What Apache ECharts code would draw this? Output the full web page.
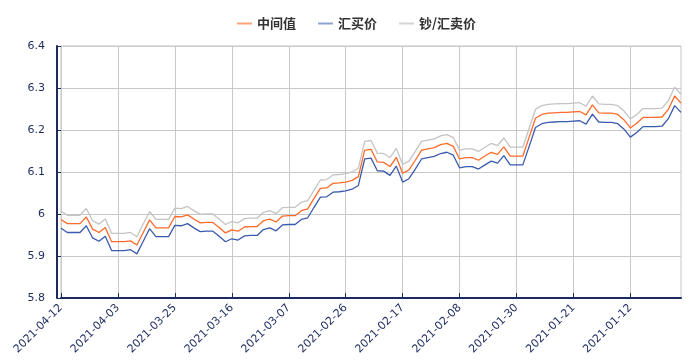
<!DOCTYPE html>
<html><head><meta charset="utf-8">
<script src="https://cdn.jsdelivr.net/npm/echarts@6/dist/echarts.min.js"></script>
<style>html,body{margin:0;padding:0;background:#fff}#c{width:696px;height:363px}</style>
</head><body><div id="c"></div>
<script>
var categories = [
'2021-04-12','2021-04-11','2021-04-10','2021-04-09','2021-04-08','2021-04-07','2021-04-06','2021-04-05','2021-04-04','2021-04-03','2021-04-02','2021-04-01',
'2021-03-31','2021-03-30','2021-03-29','2021-03-28','2021-03-27','2021-03-26','2021-03-25','2021-03-24','2021-03-23','2021-03-22','2021-03-21','2021-03-20','2021-03-19','2021-03-18','2021-03-17','2021-03-16','2021-03-15','2021-03-14','2021-03-13','2021-03-12','2021-03-11','2021-03-10','2021-03-09','2021-03-08','2021-03-07','2021-03-06','2021-03-05','2021-03-04','2021-03-03','2021-03-02','2021-03-01',
'2021-02-28','2021-02-27','2021-02-26','2021-02-25','2021-02-24','2021-02-23','2021-02-22','2021-02-21','2021-02-20','2021-02-19','2021-02-18','2021-02-17','2021-02-16','2021-02-15','2021-02-14','2021-02-13','2021-02-12','2021-02-11','2021-02-10','2021-02-09','2021-02-08','2021-02-07','2021-02-06','2021-02-05','2021-02-04','2021-02-03','2021-02-02','2021-02-01',
'2021-01-31','2021-01-30','2021-01-29','2021-01-28','2021-01-27','2021-01-26','2021-01-25','2021-01-24','2021-01-23','2021-01-22','2021-01-21','2021-01-20','2021-01-19','2021-01-18','2021-01-17','2021-01-16','2021-01-15','2021-01-14','2021-01-13','2021-01-12','2021-01-11','2021-01-10','2021-01-09','2021-01-08','2021-01-07','2021-01-06','2021-01-05','2021-01-04'
];
var seriesNames = ['中间值','汇买价','钞/汇卖价'];
var midRate = [
5.987,5.977,5.977,5.977,5.993,5.964,5.956,5.968,5.934,5.934,5.934,5.936,
5.926,5.956,5.986,5.967,5.967,5.967,5.994,5.993,5.998,5.988,5.979,5.980,5.980,5.968,5.955,5.962,5.959,5.969,5.970,5.970,5.984,5.988,5.981,5.995,5.996,5.996,6.008,6.012,6.037,6.061,6.062,
6.073,6.074,6.076,6.080,6.089,6.152,6.154,6.124,6.123,6.113,6.135,6.097,6.105,6.128,6.152,6.155,6.158,6.165,6.168,6.161,6.131,6.134,6.134,6.128,6.138,6.147,6.142,6.160,
6.138,6.138,6.138,6.183,6.228,6.237,6.240,6.241,6.242,6.242,6.243,6.244,6.236,6.260,6.241,6.240,6.240,6.237,6.224,6.205,6.216,6.230,6.230,6.230,6.231,6.249,6.281,6.264
];
var buyRate = [
5.966,5.956,5.956,5.956,5.972,5.943,5.935,5.947,5.913,5.913,5.913,5.915,
5.905,5.935,5.965,5.946,5.946,5.946,5.973,5.972,5.977,5.967,5.958,5.959,5.959,5.947,5.934,5.941,5.938,5.948,5.949,5.949,5.963,5.967,5.960,5.974,5.975,5.975,5.987,5.991,6.016,6.040,6.041,
6.052,6.053,6.055,6.059,6.068,6.131,6.133,6.103,6.102,6.092,6.114,6.076,6.084,6.107,6.131,6.134,6.137,6.144,6.147,6.140,6.110,6.113,6.113,6.107,6.117,6.126,6.121,6.139,
6.117,6.117,6.117,6.161,6.206,6.215,6.218,6.219,6.220,6.220,6.221,6.222,6.214,6.238,6.219,6.218,6.218,6.215,6.202,6.183,6.194,6.208,6.208,6.208,6.209,6.227,6.258,6.242
];
var sellRate = [
6.007,5.997,5.997,5.997,6.013,5.984,5.976,5.988,5.954,5.954,5.954,5.956,
5.946,5.976,6.006,5.987,5.987,5.987,6.014,6.013,6.018,6.008,5.999,6.000,6.000,5.988,5.975,5.982,5.979,5.989,5.990,5.990,6.004,6.008,6.001,6.015,6.016,6.016,6.028,6.032,6.057,6.081,6.082,
6.093,6.094,6.096,6.100,6.109,6.173,6.175,6.145,6.144,6.134,6.156,6.118,6.126,6.149,6.173,6.176,6.179,6.186,6.189,6.182,6.152,6.155,6.155,6.149,6.159,6.168,6.163,6.181,
6.159,6.159,6.159,6.204,6.249,6.258,6.261,6.262,6.263,6.263,6.264,6.265,6.257,6.281,6.262,6.261,6.261,6.258,6.245,6.226,6.237,6.251,6.251,6.251,6.252,6.270,6.302,6.285
];
var yMin = 5.8, yMax = 6.4, yStep = 0.1;

var navy = '#1c2a5e';
var lineColors = ['#ff6a2a', '#3a5aae', '#c4c4c4'];
var legendColors = ['#ffa27a', '#8fa2d6', '#d4d4d4'];
var chart = echarts.init(document.getElementById('c'), null, {renderer: 'canvas'});
var data = [midRate, buyRate, sellRate];
chart.setOption({
  animation: false,
  backgroundColor: '#ffffff',
  legend: {
    top: 12, left: 232,
    itemWidth: 15, itemHeight: 2, itemGap: 22,
    icon: 'rect',
    textStyle: {fontFamily: 'Noto Sans CJK SC', fontSize: 13, fontWeight: 'bold', color: '#333'},
    data: seriesNames.map(function (n, i) { return {name: n, itemStyle: {color: legendColors[i]}}; })
  },
  grid: {left: 61, right: 15, top: 46, bottom: 65, show: true, borderColor: '#c8c8c8', borderWidth: 1},
  xAxis: {
    type: 'category', data: categories, boundaryGap: false,
    axisLine: {lineStyle: {color: navy, width: 2}},
    axisTick: {show: true, inside: true, length: 5, interval: 8, lineStyle: {color: navy}},
    axisLabel: {interval: 8, rotate: 45, margin: 8, color: navy, fontFamily: 'DejaVu Sans', fontSize: 11},
    splitLine: {show: true, interval: 8, lineStyle: {color: '#c8c8c8', width: 1}}
  },
  yAxis: {
    type: 'value', min: yMin, max: yMax, interval: yStep, offset: 4,
    axisLine: {show: true, lineStyle: {color: navy, width: 2}},
    axisTick: {show: true, inside: true, length: 4, lineStyle: {color: navy}},
    axisLabel: {margin: 12, color: navy, fontFamily: 'DejaVu Sans', fontSize: 11},
    splitLine: {show: true, lineStyle: {color: '#c8c8c8', width: 1}}
  },
  series: seriesNames.map(function (n, i) {
    return {
      name: n, type: 'line', data: data[i], showSymbol: false, symbol: 'none',
      lineStyle: {color: lineColors[i], width: 1.3}, itemStyle: {color: lineColors[i]},
      z: 3 - i
    };
  })
});
</script></body></html>
